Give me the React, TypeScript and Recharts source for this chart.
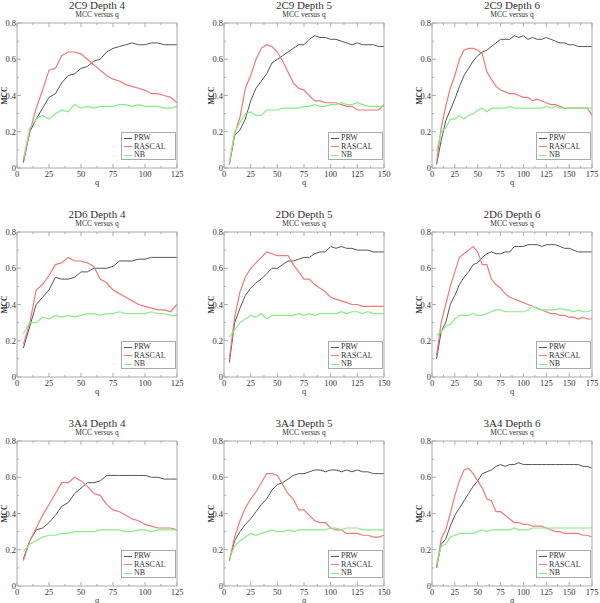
import React from 'react';
import { LineChart, Line, XAxis, YAxis, Legend } from 'recharts';

const Q125 = [5,10,15,20,25,30,35,40,45,50,55,60,65,70,75,80,85,90,95,100,105,110,115,120,125];
const Q150 = [5,10,15,20,25,30,35,40,45,50,55,60,65,70,75,80,85,90,95,100,105,110,115,120,125,130,135,140,145,150];
const Q175 = [5,10,15,20,25,30,35,40,45,50,55,60,65,70,75,80,85,90,95,100,105,110,115,120,125,130,135,140,145,150,155,160,165,170,175];

const X_TICKS_125 = [0,12.5,25,37.5,50,62.5,75,87.5,100,112.5,125];
const X_TICKS_150 = [0,12.5,25,37.5,50,62.5,75,87.5,100,112.5,125,137.5,150];
const X_TICKS_175 = [0,12.5,25,37.5,50,62.5,75,87.5,100,112.5,125,137.5,150,162.5,175];
const Y_TICKS = [0,0.1,0.2,0.3,0.4,0.5,0.6,0.7,0.8];
const SERIES_ORDER = ['PRW', 'RASCAL', 'NB'];

// 2C9
const PRW_2C9_D4 = [0.03,0.20,0.27,0.33,0.39,0.41,0.47,0.51,0.52,0.55,0.56,0.59,0.60,0.64,0.66,0.67,0.68,0.69,0.68,0.68,0.69,0.69,0.68,0.68,0.68];
const RASCAL_2C9_D4 = [0.04,0.20,0.33,0.43,0.54,0.55,0.62,0.64,0.64,0.63,0.60,0.57,0.54,0.51,0.49,0.48,0.46,0.45,0.44,0.43,0.41,0.41,0.40,0.39,0.36];
const NB_2C9_D4 = [0.05,0.22,0.27,0.29,0.27,0.30,0.32,0.31,0.35,0.33,0.34,0.33,0.34,0.34,0.34,0.35,0.35,0.34,0.35,0.34,0.34,0.34,0.33,0.33,0.34];

const PRW_2C9_D5 = [0.02,0.18,0.21,0.27,0.37,0.44,0.48,0.52,0.58,0.60,0.62,0.64,0.66,0.68,0.68,0.71,0.73,0.72,0.72,0.71,0.71,0.70,0.69,0.68,0.69,0.68,0.68,0.68,0.67,0.67];
const RASCAL_2C9_D5 = [0.02,0.19,0.28,0.44,0.51,0.60,0.66,0.68,0.67,0.64,0.59,0.53,0.47,0.44,0.43,0.40,0.37,0.37,0.36,0.36,0.36,0.35,0.34,0.34,0.32,0.32,0.32,0.32,0.32,0.35];
const NB_2C9_D5 = [0.03,0.20,0.25,0.30,0.31,0.29,0.29,0.32,0.32,0.32,0.33,0.33,0.33,0.33,0.34,0.34,0.35,0.34,0.34,0.35,0.35,0.36,0.35,0.35,0.36,0.35,0.34,0.34,0.34,0.34];

const PRW_2C9_D6 = [0.02,0.15,0.26,0.32,0.38,0.45,0.51,0.55,0.59,0.62,0.64,0.65,0.67,0.69,0.71,0.71,0.71,0.73,0.72,0.73,0.71,0.72,0.71,0.71,0.72,0.71,0.70,0.69,0.69,0.68,0.68,0.67,0.67,0.67,0.67];
const RASCAL_2C9_D6 = [0.03,0.22,0.34,0.44,0.51,0.60,0.65,0.66,0.66,0.65,0.63,0.53,0.49,0.45,0.43,0.42,0.41,0.41,0.40,0.39,0.39,0.37,0.38,0.37,0.36,0.35,0.35,0.34,0.33,0.33,0.33,0.33,0.33,0.33,0.29];
const NB_2C9_D6 = [0.09,0.20,0.22,0.27,0.27,0.29,0.27,0.29,0.30,0.32,0.33,0.31,0.33,0.33,0.33,0.33,0.34,0.33,0.33,0.33,0.33,0.33,0.33,0.33,0.34,0.33,0.34,0.33,0.33,0.33,0.33,0.33,0.33,0.33,0.33];

// 2D6
const PRW_2D6_D4 = [0.16,0.28,0.40,0.44,0.48,0.55,0.54,0.54,0.55,0.58,0.58,0.60,0.60,0.60,0.61,0.64,0.64,0.64,0.65,0.65,0.66,0.66,0.66,0.66,0.66];
const RASCAL_2D6_D4 = [0.18,0.30,0.48,0.51,0.56,0.62,0.63,0.66,0.64,0.64,0.63,0.61,0.54,0.52,0.48,0.46,0.44,0.42,0.40,0.39,0.38,0.37,0.37,0.36,0.40];
const NB_2D6_D4 = [0.24,0.30,0.30,0.33,0.32,0.34,0.33,0.34,0.33,0.34,0.35,0.35,0.34,0.35,0.35,0.36,0.35,0.35,0.35,0.35,0.36,0.35,0.35,0.34,0.34];

const PRW_2D6_D5 = [0.08,0.30,0.38,0.45,0.49,0.52,0.54,0.57,0.60,0.60,0.62,0.64,0.64,0.65,0.66,0.66,0.68,0.69,0.69,0.72,0.71,0.72,0.71,0.71,0.70,0.70,0.70,0.69,0.69,0.69];
const RASCAL_2D6_D5 = [0.10,0.33,0.47,0.55,0.60,0.63,0.66,0.69,0.68,0.67,0.67,0.67,0.62,0.58,0.54,0.54,0.51,0.49,0.47,0.44,0.43,0.42,0.41,0.40,0.40,0.39,0.39,0.39,0.39,0.39];
const NB_2D6_D5 = [0.22,0.26,0.30,0.32,0.34,0.33,0.35,0.32,0.34,0.34,0.34,0.34,0.34,0.35,0.34,0.35,0.34,0.35,0.35,0.35,0.35,0.36,0.35,0.36,0.36,0.35,0.36,0.35,0.35,0.35];

const PRW_2D6_D6 = [0.10,0.25,0.30,0.40,0.45,0.51,0.55,0.58,0.62,0.63,0.66,0.68,0.69,0.68,0.68,0.69,0.69,0.72,0.72,0.72,0.73,0.73,0.73,0.72,0.73,0.73,0.73,0.72,0.71,0.71,0.70,0.69,0.69,0.69,0.69];
const RASCAL_2D6_D6 = [0.12,0.30,0.40,0.50,0.58,0.66,0.68,0.70,0.72,0.69,0.62,0.62,0.54,0.51,0.49,0.46,0.44,0.43,0.42,0.41,0.40,0.39,0.38,0.37,0.36,0.35,0.35,0.34,0.34,0.33,0.33,0.32,0.33,0.32,0.32];
const NB_2D6_D6 = [0.23,0.25,0.28,0.29,0.32,0.34,0.34,0.34,0.35,0.34,0.34,0.35,0.36,0.37,0.37,0.36,0.36,0.36,0.36,0.36,0.37,0.39,0.38,0.37,0.37,0.37,0.37,0.38,0.37,0.37,0.36,0.37,0.36,0.36,0.37];

// 3A4
const PRW_3A4_D4 = [0.15,0.25,0.31,0.32,0.35,0.39,0.44,0.46,0.51,0.54,0.57,0.57,0.58,0.61,0.61,0.61,0.61,0.61,0.61,0.61,0.60,0.60,0.59,0.59,0.59];
const RASCAL_3A4_D4 = [0.14,0.25,0.32,0.39,0.45,0.51,0.57,0.57,0.60,0.58,0.55,0.51,0.50,0.45,0.42,0.41,0.39,0.37,0.36,0.34,0.33,0.32,0.32,0.32,0.31];
const NB_3A4_D4 = [0.19,0.23,0.25,0.27,0.28,0.28,0.29,0.29,0.30,0.30,0.30,0.30,0.31,0.31,0.31,0.31,0.30,0.30,0.31,0.31,0.30,0.31,0.31,0.31,0.31];

const PRW_3A4_D5 = [0.14,0.25,0.30,0.34,0.37,0.41,0.45,0.48,0.53,0.56,0.57,0.59,0.61,0.62,0.62,0.63,0.64,0.64,0.63,0.64,0.64,0.63,0.64,0.63,0.64,0.63,0.63,0.62,0.62,0.62];
const RASCAL_3A4_D5 = [0.14,0.27,0.36,0.43,0.48,0.52,0.57,0.62,0.62,0.61,0.56,0.51,0.48,0.42,0.42,0.39,0.36,0.35,0.35,0.32,0.31,0.31,0.29,0.29,0.29,0.28,0.28,0.27,0.27,0.28];
const NB_3A4_D5 = [0.15,0.22,0.25,0.27,0.29,0.28,0.29,0.30,0.31,0.30,0.30,0.31,0.30,0.31,0.31,0.31,0.31,0.31,0.31,0.32,0.32,0.31,0.32,0.32,0.32,0.31,0.31,0.31,0.31,0.31];

const PRW_3A4_D6 = [0.10,0.23,0.26,0.33,0.39,0.43,0.47,0.51,0.55,0.58,0.62,0.63,0.64,0.66,0.67,0.66,0.67,0.67,0.68,0.67,0.67,0.67,0.67,0.67,0.67,0.67,0.67,0.67,0.67,0.67,0.67,0.67,0.66,0.66,0.65];
const RASCAL_3A4_D6 = [0.10,0.26,0.31,0.40,0.50,0.58,0.64,0.65,0.62,0.58,0.54,0.48,0.47,0.41,0.41,0.39,0.37,0.35,0.35,0.34,0.34,0.33,0.33,0.33,0.32,0.31,0.30,0.30,0.29,0.29,0.29,0.29,0.28,0.28,0.27];
const NB_3A4_D6 = [0.12,0.22,0.23,0.27,0.28,0.29,0.29,0.29,0.29,0.30,0.31,0.30,0.31,0.31,0.31,0.31,0.31,0.32,0.31,0.31,0.31,0.32,0.32,0.32,0.32,0.32,0.32,0.32,0.32,0.32,0.32,0.32,0.32,0.32,0.32];

const PANELS = [
  { title: '2C9 Depth 4', q: Q125, xMax: 125, xTicks: X_TICKS_125, prw: PRW_2C9_D4, rascal: RASCAL_2C9_D4, nb: NB_2C9_D4 },
  { title: '2C9 Depth 5', q: Q150, xMax: 150, xTicks: X_TICKS_150, prw: PRW_2C9_D5, rascal: RASCAL_2C9_D5, nb: NB_2C9_D5 },
  { title: '2C9 Depth 6', q: Q175, xMax: 175, xTicks: X_TICKS_175, prw: PRW_2C9_D6, rascal: RASCAL_2C9_D6, nb: NB_2C9_D6 },
  { title: '2D6 Depth 4', q: Q125, xMax: 125, xTicks: X_TICKS_125, prw: PRW_2D6_D4, rascal: RASCAL_2D6_D4, nb: NB_2D6_D4 },
  { title: '2D6 Depth 5', q: Q150, xMax: 150, xTicks: X_TICKS_150, prw: PRW_2D6_D5, rascal: RASCAL_2D6_D5, nb: NB_2D6_D5 },
  { title: '2D6 Depth 6', q: Q175, xMax: 175, xTicks: X_TICKS_175, prw: PRW_2D6_D6, rascal: RASCAL_2D6_D6, nb: NB_2D6_D6 },
  { title: '3A4 Depth 4', q: Q125, xMax: 125, xTicks: X_TICKS_125, prw: PRW_3A4_D4, rascal: RASCAL_3A4_D4, nb: NB_3A4_D4 },
  { title: '3A4 Depth 5', q: Q150, xMax: 150, xTicks: X_TICKS_150, prw: PRW_3A4_D5, rascal: RASCAL_3A4_D5, nb: NB_3A4_D5 },
  { title: '3A4 Depth 6', q: Q175, xMax: 175, xTicks: X_TICKS_175, prw: PRW_3A4_D6, rascal: RASCAL_3A4_D6, nb: NB_3A4_D6 },
];

const FONT = '"Liberation Serif", "DejaVu Serif", serif';
const FRAME = '#aaa';
const TEXT = '#333';
const C_PRW = '#555';
const C_RASCAL = '#f07878';
const C_NB = '#88ec88';

const PLOT_LEFTS = [17, 224, 432];
const PLOT_TOPS = [23, 232, 441];
const PW = 160;
const PH = 145;
// axes take 1px each side, so the plot starts at margin + 1
const M = { top: 3, right: 7, bottom: 21, left: 21 };
const OFF_L = M.left + 1;
const OFF_T = M.top + 1;

const isMajorX = (v: number) => Math.abs(v % 25) < 1e-9;
const isMajorY = (v: number) => Math.round(v * 10) % 2 === 0;

const BottomTick = (p: any) => {
  const { x, y, payload } = p;
  const major = isMajorX(payload.value);
  return (
    <g>
      <line x1={x} x2={x} y1={y} y2={y - (major ? 4 : 2)} stroke={FRAME} strokeWidth={1} />
      {major && (
        <text x={x} y={y + 8.5} textAnchor="middle" fontSize={8.5} fontFamily={FONT} fill={TEXT}>
          {payload.value}
        </text>
      )}
    </g>
  );
};
const TopTick = (p: any) => {
  const { x, y, payload } = p;
  const major = isMajorX(payload.value);
  return <line x1={x} x2={x} y1={y} y2={y + (major ? 4 : 2)} stroke={FRAME} strokeWidth={1} />;
};
const LeftTick = (p: any) => {
  const { x, y, payload } = p;
  const major = isMajorY(payload.value);
  return (
    <g>
      <line x1={x} x2={x + (major ? 4 : 2)} y1={y} y2={y} stroke={FRAME} strokeWidth={1} />
      {major && (
        <text x={x - 1} y={y + 3} textAnchor="end" fontSize={8.5} fontFamily={FONT} fill={TEXT}>
          {payload.value}
        </text>
      )}
    </g>
  );
};
const RightTick = (p: any) => {
  const { x, y, payload } = p;
  const major = isMajorY(payload.value);
  return <line x1={x} x2={x - (major ? 4 : 2)} y1={y} y2={y} stroke={FRAME} strokeWidth={1} />;
};

const LegendBox = (props: any) => {
  const items = [...(props.payload || [])].sort(
    (a: any, b: any) => SERIES_ORDER.indexOf(a.value) - SERIES_ORDER.indexOf(b.value)
  );
  return (
    <div style={{ width: 55, height: 28, boxSizing: 'border-box', border: `1px solid ${FRAME}`, background: '#fff', padding: '1px 0 0 2px' }}>
      {items.map((it: any) => (
        <div key={it.value} style={{ display: 'flex', alignItems: 'center', height: 8.5 }}>
          <div style={{ width: 8, height: 0, borderTop: `1px solid ${it.color}`, marginRight: 2 }} />
          <span style={{ fontFamily: FONT, fontSize: 8, color: TEXT, lineHeight: '8px' }}>{it.value}</span>
        </div>
      ))}
    </div>
  );
};

const Panel = ({ cfg, col, row }: { cfg: any; col: number; row: number }) => {
  const data = cfg.q.map((q: number, i: number) => ({ q, prw: cfg.prw[i], rascal: cfg.rascal[i], nb: cfg.nb[i] }));
  const plotLeft = PLOT_LEFTS[col];
  const plotTop = PLOT_TOPS[row];
  const w = PW + M.left + M.right + 2;
  const h = PH + M.top + M.bottom + 2;
  return (
    <>
      <div style={{ position: 'absolute', left: plotLeft, top: plotTop - 23, width: PW, textAlign: 'center', fontFamily: FONT, fontSize: 11, lineHeight: '11px', color: '#333' }}>
        {cfg.title}
      </div>
      <div style={{ position: 'absolute', left: plotLeft, top: plotTop - 12, width: PW, textAlign: 'center', fontFamily: FONT, fontSize: 7.5, lineHeight: '8px', color: '#333' }}>
        MCC versus q
      </div>
      <div style={{ position: 'absolute', left: plotLeft - OFF_L, top: plotTop - OFF_T }}>
        <LineChart width={w} height={h} data={data} margin={M}>
          <XAxis xAxisId="b" dataKey="q" type="number" domain={[0, cfg.xMax]} ticks={cfg.xTicks} interval={0}
            height={1} tickSize={0} tickMargin={0} tickLine={false} axisLine={{ stroke: FRAME }} tick={BottomTick}
            label={{ content: (lp: any) => { const vb = lp.viewBox || {}; return (
              <text x={vb.x + vb.width / 2} y={vb.y + 17} textAnchor="middle" fontSize={8.5} fontFamily={FONT} fill={TEXT}>q</text>
            ); } }} />
          <XAxis xAxisId="t" orientation="top" dataKey="q" type="number" domain={[0, cfg.xMax]} ticks={cfg.xTicks} interval={0}
            height={1} tickSize={0} tickMargin={0} tickLine={false} axisLine={{ stroke: FRAME }} tick={TopTick} />
          <YAxis yAxisId="l" type="number" domain={[0, 0.8]} ticks={Y_TICKS} interval={0}
            width={1} tickSize={0} tickMargin={0} tickLine={false} axisLine={{ stroke: FRAME }} tick={LeftTick}
            label={{ content: (lp: any) => { const vb = lp.viewBox || {}; const cx = vb.x + vb.width - 13; const cy = vb.y + vb.height / 2; return (
              <text x={cx} y={cy} transform={`rotate(-90 ${cx} ${cy})`} textAnchor="middle" dominantBaseline="central" fontSize={7.5} fontWeight="bold" fontFamily={FONT} fill={TEXT}>MCC</text>
            ); } }} />
          <YAxis yAxisId="r" orientation="right" type="number" domain={[0, 0.8]} ticks={Y_TICKS} interval={0}
            width={1} tickSize={0} tickMargin={0} tickLine={false} axisLine={{ stroke: FRAME }} tick={RightTick} />
          <Legend layout="vertical" align="center" verticalAlign="middle" content={LegendBox}
            wrapperStyle={{ position: 'absolute', left: OFF_L + 104, top: OFF_T + 109, width: 55, height: 28 }} />
          <Line xAxisId="b" yAxisId="l" type="linear" dataKey="prw" name="PRW" stroke={C_PRW} strokeWidth={1} dot={false} isAnimationActive={false} />
          <Line xAxisId="b" yAxisId="l" type="linear" dataKey="rascal" name="RASCAL" stroke={C_RASCAL} strokeWidth={1.2} dot={false} isAnimationActive={false} />
          <Line xAxisId="b" yAxisId="l" type="linear" dataKey="nb" name="NB" stroke={C_NB} strokeWidth={1.2} dot={false} isAnimationActive={false} />
        </LineChart>
      </div>
    </>
  );
};

export default function App() {
  return (
    <div style={{ position: 'absolute', left: 0, top: 0, width: 600, height: 603, background: '#fff', overflow: 'hidden' }}>
      {PANELS.map((cfg, i) => (
        <Panel key={cfg.title} cfg={cfg} col={i % 3} row={Math.floor(i / 3)} />
      ))}
    </div>
  );
}
